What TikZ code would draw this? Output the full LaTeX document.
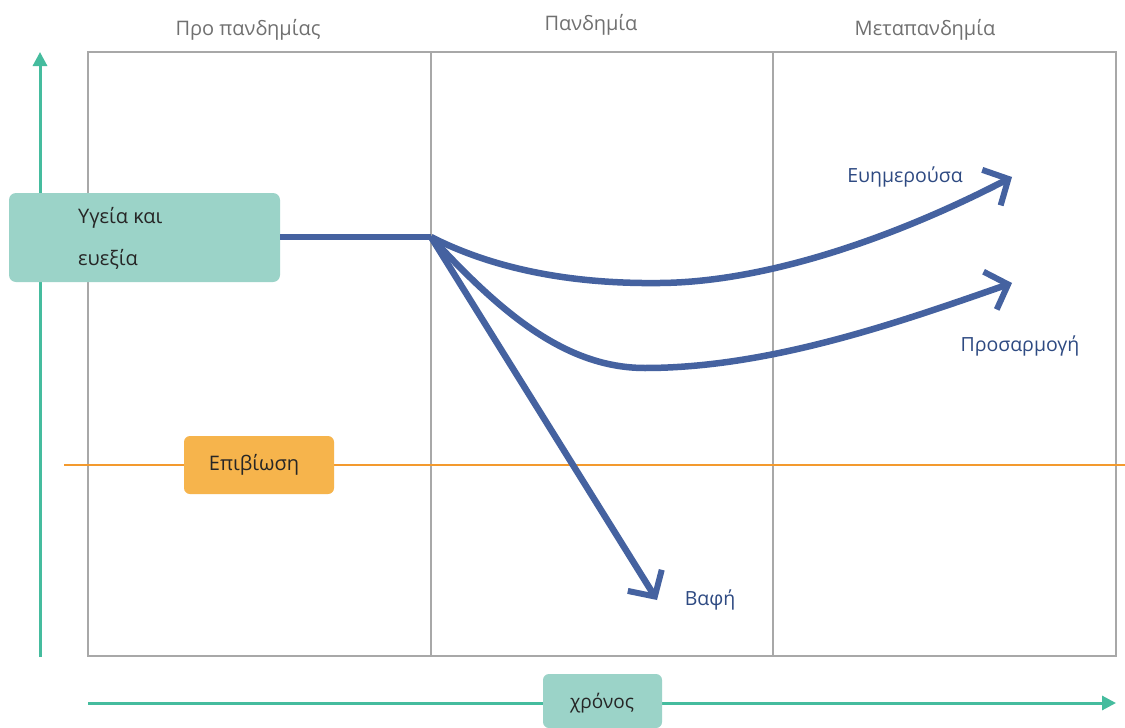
\documentclass[tikz,border=0pt]{standalone}
\usepackage{fontspec}
\setmainfont{Open Sans}
\usetikzlibrary{arrows.meta}
\definecolor{teal1}{HTML}{45BC9E}
\definecolor{tealbox}{HTML}{9BD3C8}
\definecolor{orline}{HTML}{F39A2E}
\definecolor{orbox}{HTML}{F6B44C}
\definecolor{bluel}{HTML}{4562A0}
\definecolor{bluet}{HTML}{2E4A82}
\definecolor{grayl}{HTML}{A8A8A8}
\definecolor{grayt}{HTML}{707070}
\tikzset{
  colhead/.style={text=grayt, font=\fontsize{20}{22}\selectfont},
  boxtext/.style={text=black!85, font=\fontsize{20}{22}\selectfont},
  bluelabel/.style={text=bluet, font=\fontsize{19.5}{22}\selectfont},
  path/.style={draw=bluel, line width=6.5pt},
  patharrow/.style={path, -{Straight Barb[length=19pt, width=40pt, line width=6pt]}},
  axis/.style={draw=teal1, line width=3pt, -{Triangle[length=14pt, width=14pt]}},
}
\begin{document}
\begin{tikzpicture}[x=1pt, y=-1pt]
\useasboundingbox[fill=white] (0,0) rectangle (1125,728);
% frame
\draw[grayl, line width=1.2pt] (88,52) rectangle (1116,656);
\draw[grayl, line width=1.2pt] (431,52) -- (431,656);
\draw[grayl, line width=1.2pt] (773,52) -- (773,656);
% column headings
\node[colhead] (h1) at (248,30) {Προ πανδημίας};
\node[colhead] (h2) at (591,25) {Πανδημία};
\node[colhead] (h3) at (925,30) {Μεταπανδημία};
% axes
\coordinate (ybot) at (40,657);
\coordinate (ytop) at (40,52);
\draw[axis] (ybot) -- (ytop);
\coordinate (xl) at (88,703);
\coordinate (xr) at (1116,703);
\draw[axis] (xl) -- (xr);
\fill[tealbox, rounded corners=6pt] (543,728) -- (543,674) -- (662,674) -- (662,728) -- cycle;
\node[boxtext, font=\fontsize{19}{22}\selectfont] (time) at (602,703) {χρόνος};
% survival line
\coordinate (ol) at (64,465);
\coordinate (or) at (1125,465);
\draw[orline, line width=2.5pt] (ol) -- (or);
\node[fill=orbox, rounded corners=6pt, minimum width=150pt, minimum height=58pt, inner sep=0pt] (surv) at (259,465) {};
\node[boxtext] (survt) at (254,465) {Επιβίωση};
% health box
\node[fill=tealbox, rounded corners=7pt, minimum width=271pt, minimum height=89pt, inner sep=0pt] (health) at (144.5,237.5) {};
\node[boxtext, anchor=west, inner sep=0pt] (ht1) at (78,218) {Υγεία και};
\node[boxtext, anchor=west, inner sep=0pt] (ht2) at (78,259) {ευεξία};
% branches
\coordinate (split) at (431,237);
\coordinate (e1) at (1012,177);
\coordinate (e2) at (1012,283);
\coordinate (e3) at (657,600);
\draw[path] (health.east |- split) -- (split);
\draw[patharrow] (split) .. controls (500,272) and (580,284) .. (660,283)
   .. controls (770,282) and (900,235) .. (e1);
\draw[patharrow] (split) .. controls (500,312) and (565,368) .. (645,368)
   .. controls (770,368) and (900,322) .. (e2);
\draw[patharrow] (split) -- (e3);
% labels
\node[bluelabel] (l1) at (905,177) {Ευημερούσα};
\node[bluelabel] (l2) at (1020,346) {Προσαρμογή};
\node[bluelabel] (l3) at (710,600) {Βαφή};
\end{tikzpicture}
\end{document}
